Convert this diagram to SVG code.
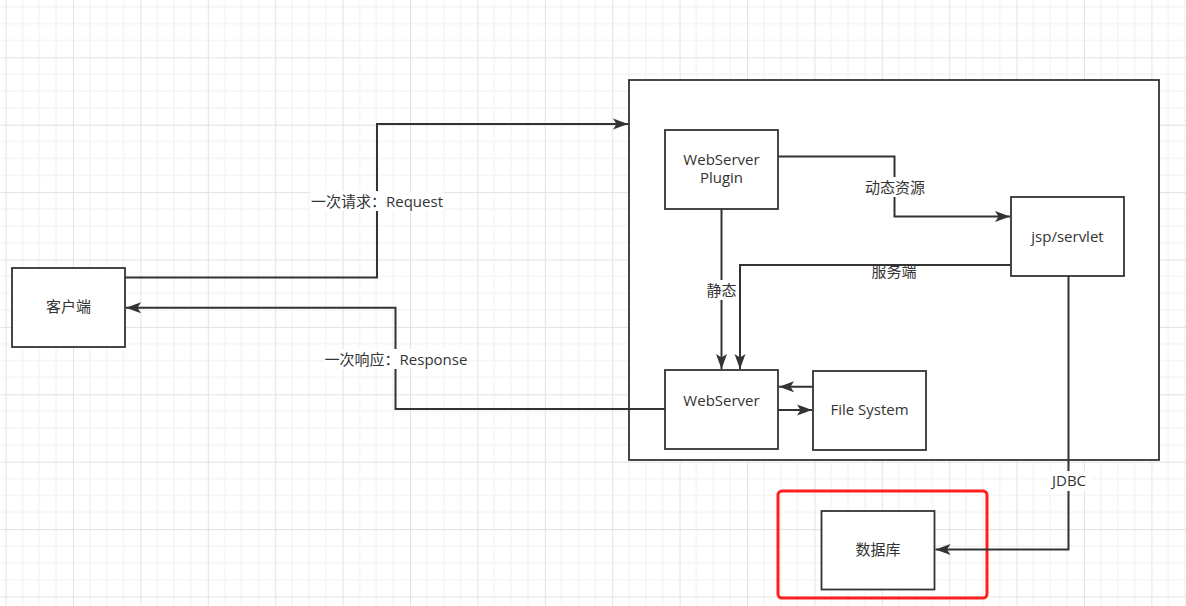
<svg xmlns="http://www.w3.org/2000/svg" width="1186" height="606" viewBox="0 0 1186 606">
  <style>
    .box { fill: #ffffff; stroke: #333333; stroke-width: 1.8; }
    .edge { fill: none; stroke: #333333; stroke-width: 2; }
    .txt { font-family: "Open Sans", "Noto Sans CJK SC", sans-serif; font-size: 15px; fill: #333333; text-anchor: middle; dominant-baseline: central; }
    .lbl-bg { fill: #ffffff; }
  </style>
  <defs>
    <pattern id="grid" patternUnits="userSpaceOnUse" x="5.6" y="-10.1" width="67.4" height="67.4">
      <path d="M16.85,0 V67.4 M33.7,0 V67.4 M50.55,0 V67.4 M0,16.85 H67.4 M0,33.7 H67.4 M0,50.55 H67.4" stroke="#f0f0f0" stroke-width="1" fill="none"/>
      <path d="M0.5,0 V67.4 M0,0.5 H67.4" stroke="#e2e2e2" stroke-width="1" fill="none"/>
    </pattern>
    <marker id="arrow" markerUnits="userSpaceOnUse" markerWidth="16" markerHeight="14" viewBox="0 0 16 14" refX="15" refY="7" orient="auto">
      <path d="M0,1.5 L15,7 L0,12.5 L3.5,7 Z" fill="#333333"/>
    </marker>
  </defs>
  <rect x="0" y="0" width="1186" height="606" fill="#ffffff"/>
  <rect x="0" y="0" width="1186" height="606" fill="url(#grid)"/>

  <g id="container">
    <rect class="box" x="629" y="80" width="530" height="380"/>
  </g>
  <g id="client">
    <rect class="box" x="12" y="268" width="113" height="79"/>
    <text class="txt" x="68.5" y="306">客户端</text>
  </g>
  <g id="plugin">
    <rect class="box" x="665" y="130" width="113" height="79"/>
    <text class="txt" x="721.5" y="159">WebServer</text>
    <text class="txt" x="721.5" y="177">Plugin</text>
  </g>
  <g id="servlet">
    <rect class="box" x="1011" y="197" width="113" height="79"/>
    <text class="txt" x="1067.5" y="236">jsp/servlet</text>
  </g>
  <g id="webserver">
    <rect class="box" x="665" y="370" width="113" height="79"/>
    <text class="txt" x="721.5" y="400">WebServer</text>
  </g>
  <g id="filesystem">
    <rect class="box" x="813" y="371" width="113" height="79"/>
    <text class="txt" x="869.5" y="409">File System</text>
  </g>
  <g id="db-highlight">
    <rect x="778" y="491" width="209" height="107" rx="4" ry="4" fill="none" stroke="#ff1f1f" stroke-width="3"/>
  </g>
  <g id="database">
    <rect class="box" x="821.5" y="511" width="113" height="78.5"/>
    <text class="txt" x="878" y="549">数据库</text>
  </g>

  <g id="connectors">
    <path class="edge" d="M125,277.5 H377 V124 H628" marker-end="url(#arrow)"/>
    <path class="edge" d="M665,409 H395.5 V307.7 H126" marker-end="url(#arrow)"/>
    <path class="edge" d="M778,156.5 H894.5 V216.5 H1010" marker-end="url(#arrow)"/>
    <path class="edge" d="M721.5,209 V369" marker-end="url(#arrow)"/>
    <path class="edge" d="M1011,265 H740 V369" marker-end="url(#arrow)"/>
    <path class="edge" d="M813,386.7 H779" marker-end="url(#arrow)"/>
    <path class="edge" d="M778,410 H812" marker-end="url(#arrow)"/>
    <path class="edge" d="M1068.5,276 V549.5 H935.5" marker-end="url(#arrow)"/>

    <rect class="lbl-bg" x="310" y="191" width="134" height="20"/>
    <text class="txt" x="377" y="200.5">一次请求：Request</text>
    <rect class="lbl-bg" x="324" y="349" width="144" height="20"/>
    <text class="txt" x="396" y="358.5">一次响应：Response</text>
    <rect class="lbl-bg" x="864" y="177" width="62" height="20"/>
    <text class="txt" x="895" y="186.5">动态资源</text>
    <rect class="lbl-bg" x="704" y="280" width="34" height="20"/>
    <text class="txt" x="721.5" y="289.5">静态</text>
    <rect class="lbl-bg" x="870" y="266" width="48" height="12"/>
    <text class="txt" x="894" y="270.5">服务端</text>
    <rect class="lbl-bg" x="1048" y="471" width="42" height="20"/>
    <text class="txt" x="1069" y="480">JDBC</text>
  </g>
</svg>
